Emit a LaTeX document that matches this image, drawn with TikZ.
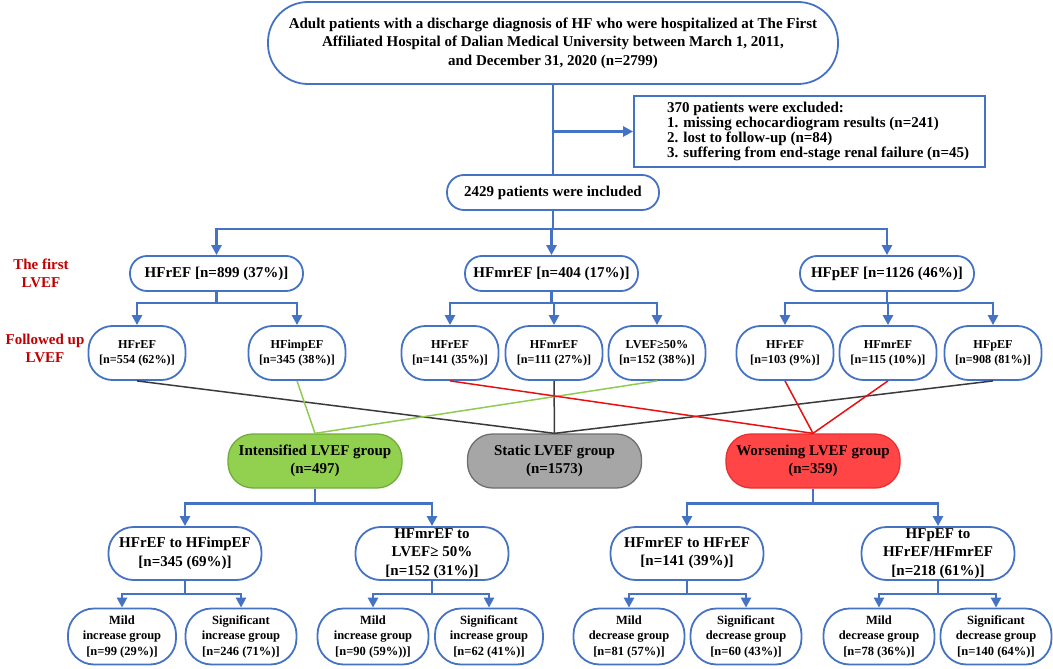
\documentclass[tikz,border=0pt]{standalone}
\usepackage{fontspec}
\setmainfont{Liberation Serif}
\usetikzlibrary{arrows.meta,calc}
\definecolor{bl}{HTML}{4472C4}
\definecolor{lbl}{HTML}{C00000}
\definecolor{gfill}{HTML}{92D050}
\definecolor{gdraw}{HTML}{6FAC3C}
\definecolor{sfill}{HTML}{A6A6A6}
\definecolor{sdraw}{HTML}{6E6E6E}
\definecolor{rfill}{HTML}{FF4545}
\definecolor{rdraw}{HTML}{E83030}
\definecolor{lnblack}{HTML}{3A3A3A}
\definecolor{lngreen}{HTML}{8FCB52}
\definecolor{lnred}{HTML}{E81010}
\begin{document}
\begin{tikzpicture}[x=1pt,y=-1pt,
  conn/.style={draw=bl,line width=2.5pt},
  arr/.style={conn,-{Triangle[length=10pt,width=10pt]}},
  base/.style={draw=bl,line width=1.8pt,fill=white,align=center,inner sep=0pt},
  topbox/.style={base,rounded corners=40pt,minimum width=570,minimum height=82,font=\fontsize{15}{18.5}\selectfont\bfseries},
  pillA/.style={base,rounded corners=17pt,minimum height=35,font=\fontsize{15}{18}\selectfont\bfseries},
  pillB/.style={base,rounded corners=24pt,minimum width=97,minimum height=54,font=\fontsize{12.2}{15}\selectfont\bfseries},
  grp/.style={align=center,inner sep=0pt,line width=1.3pt,rounded corners=25pt,minimum width=174,minimum height=54,font=\fontsize{15}{18}\selectfont\bfseries},
  pillC/.style={base,rounded corners=25pt,minimum width=153,minimum height=53,font=\fontsize{15}{18.3}\selectfont\bfseries},
  pillD/.style={base,rounded corners=26pt,minimum width=111,minimum height=56,font=\fontsize{12.5}{15.5}\selectfont\bfseries},
  lab/.style={align=center,inner sep=0pt,text=lbl,font=\fontsize{15}{18}\selectfont\bfseries},
  thin/.style={line width=1.5pt}
]
\useasboundingbox (0,0) rectangle (1053,669);

% top section
\node[topbox] (top) at (553,43) {Adult patients with a discharge diagnosis of HF who were hospitalized at The First\\Affiliated Hospital of Dalian Medical University between March 1, 2011,\\and December 31, 2020 (n=2799)};
\node[draw=bl,line width=1.8pt,minimum width=351,minimum height=71,inner sep=0pt] (excl) at (809.5,131.5) {};
\node[anchor=west,align=left,inner sep=0pt,font=\fontsize{15}{15}\selectfont\bfseries] (excltext) at (667,131) {370 patients were excluded:\\1. missing echocardiogram results (n=241)\\2. lost to follow-up (n=84)\\3. suffering from end-stage renal failure (n=45)};
\node[pillA,minimum width=212] (incl) at (553,192.5) {2429 patients were included};

% labels
\node[lab] (lab1) at (41,273) {The first\\LVEF};
\node[lab] (lab2) at (45,348) {Followed up\\LVEF};

% first LVEF
\node[pillA,minimum width=173] (L1a) at (216.5,273.5) {HFrEF [n=899 (37\%)]};
\node[pillA,minimum width=173] (L1b) at (551.5,273.5) {HFmrEF [n=404 (17\%)]};
\node[pillA,minimum width=174] (L1c) at (887,273.5) {HFpEF [n=1126 (46\%)]};

% followed-up LVEF
\node[pillB] (L2a) at (137,353) {HFrEF\\{[n=554 (62\%)]}};
\node[pillB] (L2b) at (297,353) {HFimpEF\\{[n=345 (38\%)]}};
\node[pillB] (L2c) at (450,353) {HFrEF\\{[n=141 (35\%)]}};
\node[pillB] (L2d) at (554,353) {HFmrEF\\{[n=111 (27\%)]}};
\node[pillB] (L2e) at (657,353) {LVEF≥50\%\\{[n=152 (38\%)]}};
\node[pillB] (L2f) at (785,353) {HFrEF\\{[n=103 (9\%)]}};
\node[pillB] (L2g) at (888,353) {HFmrEF\\{[n=115 (10\%)]}};
\node[pillB] (L2h) at (993,353) {HFpEF\\{[n=908 (81\%)]}};

% groups
\node[grp,draw=gdraw,fill=gfill] (gI) at (315,461) {Intensified LVEF group\\(n=497)};
\node[grp,draw=sdraw,fill=sfill] (gS) at (554.5,461) {Static LVEF group\\(n=1573)};
\node[grp,draw=rdraw,fill=rfill] (gW) at (813,461) {Worsening LVEF group\\(n=359)};

% third level
\node[pillC] (L3a) at (185,553.5) {HFrEF to HFimpEF\\{[n=345 (69\%)]}};
\node[pillC] (L3b) at (432,553.5) {HFmrEF to\\LVEF≥ 50\%\\{[n=152 (31\%)]}};
\node[pillC] (L3c) at (687,553.5) {HFmrEF to HFrEF\\{[n=141 (39\%)]}};
\node[pillC] (L3d) at (938,553.5) {HFpEF to\\HFrEF/HFmrEF\\{[n=218 (61\%)]}};

% fourth level
\node[pillD,minimum width=108] (L4a) at (122,636.5) {Mild\\increase group\\{[n=99 (29\%)]}};
\node[pillD] (L4b) at (241,636.5) {Significant\\increase group\\{[n=246 (71\%)]}};
\node[pillD] (L4c) at (373,636.5) {Mild\\increase group\\{[n=90 (59\%))]}};
\node[pillD,minimum width=108] (L4d) at (489,636.5) {Significant\\increase group\\{[n=62 (41\%)]}};
\node[pillD] (L4e) at (629,636.5) {Mild\\decrease group\\{[n=81 (57\%)]}};
\node[pillD] (L4f) at (746,636.5) {Significant\\decrease group\\{[n=60 (43\%)]}};
\node[pillD] (L4g) at (879,636.5) {Mild\\decrease group\\{[n=78 (36\%)]}};
\node[pillD] (L4h) at (996,636.5) {Significant\\decrease group\\{[n=140 (64\%)]}};

% blue connectors
\draw[conn] (top.south) -- (incl.north);
\coordinate (ex) at (top.south |- excl.west);
\draw[arr] (ex) -- (excl.west);
\foreach \t in {L1a,L1b,L1c} \draw[arr] (incl.south) -- ++(0,18) -| (\t.north);
\foreach \t in {L2a,L2b} \draw[arr] (L1a.south) -- ++(0,11) -| (\t.north);
\foreach \t in {L2c,L2d,L2e} \draw[arr] (L1b.south) -- ++(0,11) -| (\t.north);
\foreach \t in {L2f,L2g,L2h} \draw[arr] (L1c.south) -- ++(0,11) -| (\t.north);
\foreach \t in {L3a,L3b} \draw[arr] (gI.south) -- ++(0,15) -| (\t.north);
\foreach \t in {L3c,L3d} \draw[arr] (gW.south) -- ++(0,15) -| (\t.north);
\foreach \t in {L4a,L4b} \draw[arr] (L3a.south) -- ++(0,13) -| (\t.north);
\foreach \t in {L4c,L4d} \draw[arr] (L3b.south) -- ++(0,13) -| (\t.north);
\foreach \t in {L4e,L4f} \draw[arr] (L3c.south) -- ++(0,13) -| (\t.north);
\foreach \t in {L4g,L4h} \draw[arr] (L3d.south) -- ++(0,13) -| (\t.north);

% group assignment lines
\draw[thin,lnblack] (L2a.south) -- (gS.north);
\draw[thin,lnblack] (L2d.south) -- (gS.north);
\draw[thin,lnblack] (L2h.south) -- (gS.north);
\draw[thin,lngreen] (L2b.south) -- (gI.north);
\draw[thin,lngreen] (L2e.south) -- (gI.north);
\draw[thin,lnred] (L2c.south) -- (gW.north);
\draw[thin,lnred] (L2f.south) -- (gW.north);
\draw[thin,lnred] (L2g.south) -- (gW.north);
\end{tikzpicture}
\end{document}
